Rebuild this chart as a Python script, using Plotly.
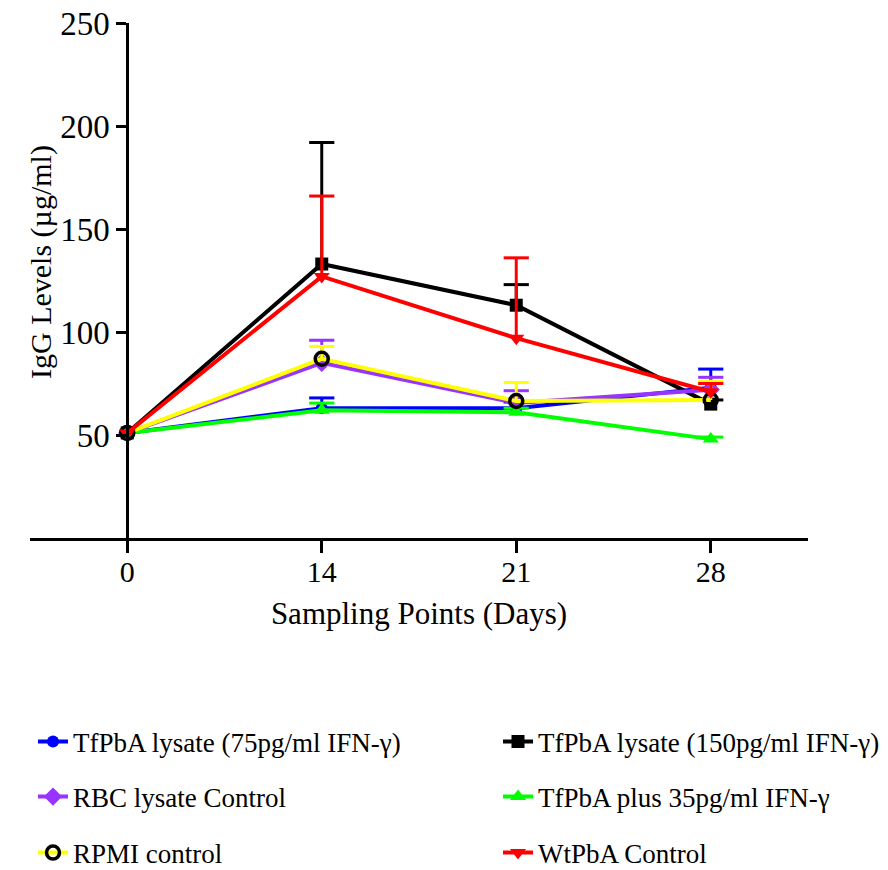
import plotly.graph_objects as go

# Sampling days (equally spaced categories on the x axis)
days = ["0", "14", "21", "28"]

# Mean IgG levels (µg/ml) per group
tf75_mean = [51, 63, 63, 73]
tf150_mean = [51, 133, 113, 65]
rbc_mean = [51, 85, 65.5, 72]
tf35_mean = [51, 62, 61, 48]
rpmi_mean = [51, 87, 66.5, 67]
wt_mean = [51, 127, 97, 71]

# Upper error (SD) per group; day 0 carries none
tf75_err = [None, 5, 3, 9]
tf150_err = [None, 59, 10, 2]
rbc_err = [None, 11, 6, 6]
tf35_err = [None, 3.5, 2, 1]
rpmi_err = [None, 6, 9, 9]
wt_err = [None, 39, 39, 4]

y_ticks = [50, 100, 150, 200, 250]

series = [
    dict(name="TfPbA lysate (75pg/ml IFN-γ)", mean=tf75_mean, err=tf75_err,
         color="#0000FF", symbol="circle", msize=12, mline=None),
    dict(name="TfPbA lysate (150pg/ml IFN-γ)", mean=tf150_mean, err=tf150_err,
         color="#000000", symbol="square", msize=13, mline=None),
    dict(name="RBC lysate Control", mean=rbc_mean, err=rbc_err,
         color="#9933FF", symbol="diamond", msize=14, mline=None),
    dict(name="TfPbA plus 35pg/ml IFN-γ", mean=tf35_mean, err=tf35_err,
         color="#00FF00", symbol="triangle-up", msize=14, mline=None),
    dict(name="RPMI control", mean=rpmi_mean, err=rpmi_err,
         color="#FFFF00", symbol="circle-open", msize=13, mline="#000000"),
    dict(name="WtPbA Control", mean=wt_mean, err=wt_err,
         color="#FF0000", symbol="triangle-down", msize=14, mline=None),
]

# legend grid: two columns, three rows (left edge px, row centre px)
legend_cols_px = [33, 498]
legend_rows_px = [742, 797, 853]

fig = go.Figure()

for i, s in enumerate(series):
    leg = "legend" if i == 0 else f"legend{i + 1}"
    # one-sided (upper) error bars: vertical stem + cap at the top
    ex, ey, cx, cy = [], [], [], []
    for d, m, e in zip(days, s["mean"], s["err"]):
        if e is None:
            continue
        ex += [d, d, None]
        ey += [m, m + e, None]
        cx.append(d)
        cy.append(m + e)
    fig.add_trace(go.Scatter(
        x=ex, y=ey, mode="lines", showlegend=False, hoverinfo="skip",
        line=dict(color=s["color"], width=3), legend=leg))
    fig.add_trace(go.Scatter(
        x=cx, y=cy, mode="markers", showlegend=False, hoverinfo="skip",
        marker=dict(symbol="line-ew-open", size=18, color=s["color"],
                    line=dict(color=s["color"], width=3)),
        legend=leg))

    if s["mline"]:
        marker = dict(symbol=s["symbol"], size=s["msize"],
                      color=s["mline"], line=dict(color=s["mline"], width=3.5))
    else:
        marker = dict(symbol=s["symbol"], size=s["msize"], color=s["color"])
    fig.add_trace(go.Scatter(
        x=days, y=s["mean"], mode="lines+markers", name=s["name"],
        line=dict(color=s["color"], width=4), marker=marker, legend=leg))

font_family = "Liberation Serif, Times New Roman, serif"

ML, MR, MT, MB = 30, 80, 23, 332
W, H = 888, 870
plot_w = W - ML - MR
plot_h = H - MT - MB
x_range = [-0.5, 3.5]
y_axis_pos = (0 - x_range[0]) / (x_range[1] - x_range[0])

legends = {}
for i in range(len(series)):
    key = "legend" if i == 0 else f"legend{i + 1}"
    col, row = i % 2, i // 2
    legends[key] = dict(
        x=(legend_cols_px[col] - ML) / plot_w,
        y=(H - MB - legend_rows_px[row]) / plot_h,
        xanchor="left", yanchor="middle", orientation="h",
        font=dict(family=font_family, size=27, color="#000000"),
        bgcolor="rgba(0,0,0,0)",
    )

fig.update_layout(
    width=W, height=H,
    margin=dict(l=ML, r=MR, t=MT, b=MB, autoexpand=False),
    paper_bgcolor="#FFFFFF", plot_bgcolor="#FFFFFF",
    font=dict(family=font_family, color="#000000"),
    xaxis=dict(
        type="category", categoryarray=days, range=x_range,
        showline=True, linecolor="#000000", linewidth=3,
        ticks="outside", ticklen=12, tickwidth=3, tickcolor="#000000",
        tickfont=dict(size=30), ticklabelstandoff=-7,
        showgrid=False, zeroline=False,
        title=dict(text="Sampling Points (Days)", font=dict(size=31), standoff=16),
    ),
    yaxis=dict(
        range=[0, 250], tickvals=y_ticks, anchor="free", position=y_axis_pos,
        showline=True, linecolor="#000000", linewidth=3,
        ticks="outside", ticklen=10, tickwidth=3, tickcolor="#000000",
        tickfont=dict(size=33), showgrid=False, zeroline=False,
    ),
    annotations=[dict(
        text="IgG Levels (µg/ml)", textangle=-90,
        xref="paper", yref="paper",
        x=(41 - ML) / plot_w, y=(H - MB - 262) / plot_h,
        xanchor="center", yanchor="middle", showarrow=False,
        font=dict(family=font_family, size=30, color="#000000"),
    )],
    **legends,
)

fig.write_html("out.html")
